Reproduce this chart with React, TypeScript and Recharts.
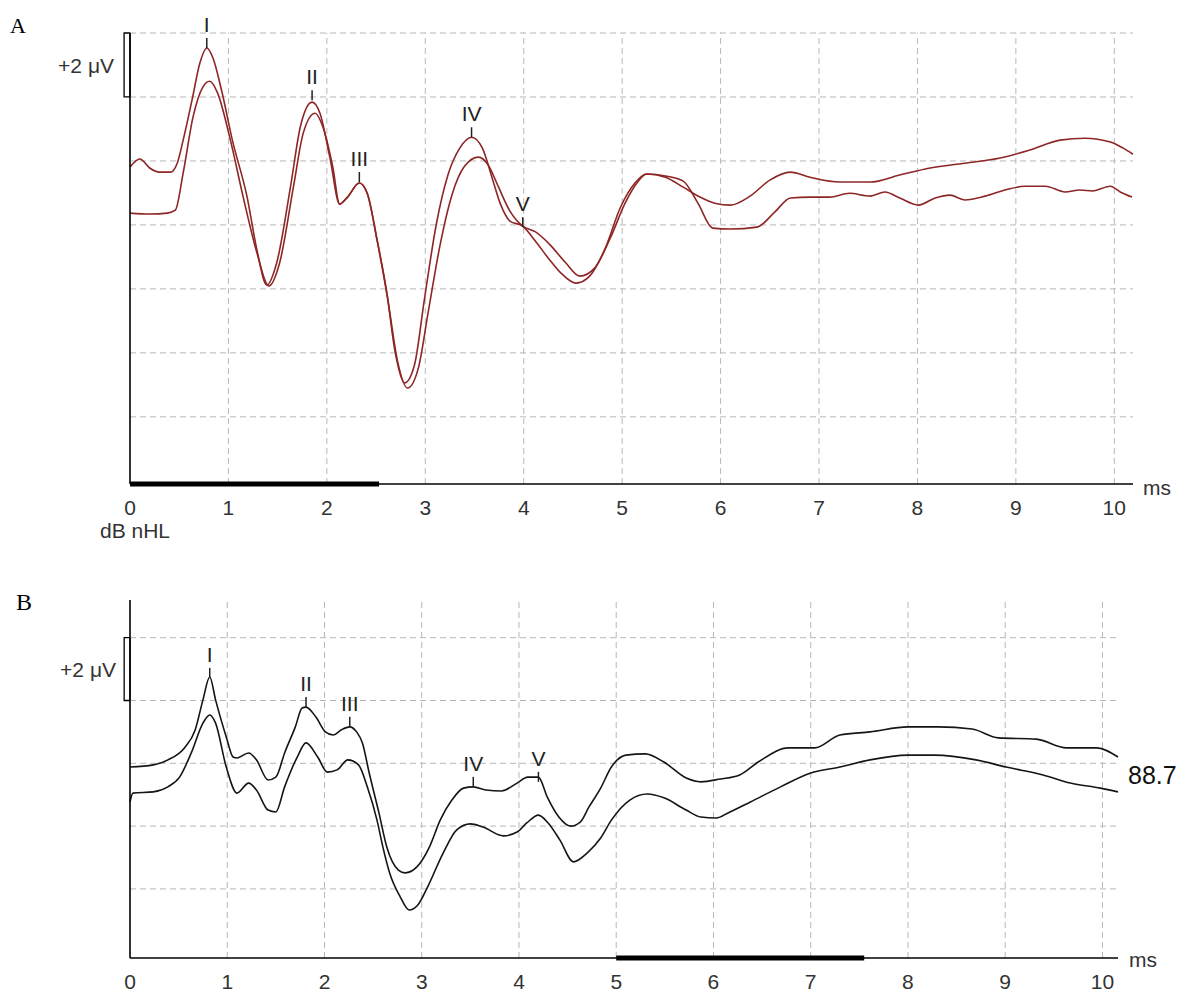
import React from 'react';
import { ComposedChart, Line, XAxis, YAxis, ReferenceLine, ReferenceArea, Scatter } from 'recharts';

// ---- axes / grid ----
const msTicks = [0, 1, 2, 3, 4, 5, 6, 7, 8, 9, 10];
const msGrid = [1, 2, 3, 4, 5, 6, 7, 8, 9, 10];
const uvGridA = [2, 4, 6, 8, 10, 12, 14];
const uvGridB = [2, 4, 6, 8, 10];
const baselineA = [8.34, 8.99];
const baselineB = [4.83, 5.88];
const stimulusA: [number, number] = [0, 2.53];
const stimulusB: [number, number] = [5, 7.55];
const levelB = '88.7';

// ---- Panel A traces [ms, µV] ----
const aUpper: [number, number][] = [
  [0, 9.81], [0.1, 10.06], [0.2, 9.78], [0.3, 9.65], [0.41, 9.65], [0.48, 9.93], [0.54, 10.65],
  [0.63, 11.9], [0.71, 13.06], [0.78, 13.53], [0.84, 13.24], [0.93, 12.21], [1.04, 10.65],
  [1.19, 8.87], [1.29, 7.21], [1.39, 6.12], [1.49, 6.81], [1.63, 9.18], [1.73, 11.06],
  [1.85, 11.84], [1.93, 11.49], [2.03, 10.12], [2.13, 8.65], [2.21, 8.87], [2.33, 9.31],
  [2.41, 8.99], [2.51, 7.53], [2.61, 5.87], [2.69, 4.09], [2.79, 3.06], [2.89, 3.62],
  [2.99, 5.65], [3.11, 7.99], [3.23, 9.56], [3.35, 10.4], [3.47, 10.74], [3.58, 10.4],
  [3.68, 9.46], [3.76, 8.68], [3.86, 8.12], [3.99, 7.96], [4.11, 7.53], [4.25, 6.96],
  [4.39, 6.46], [4.53, 6.18], [4.67, 6.4], [4.83, 7.28], [4.98, 8.53], [5.13, 9.31],
  [5.25, 9.59], [5.44, 9.49], [5.62, 9.18], [5.79, 8.87], [5.94, 8.68], [6.1, 8.62],
  [6.3, 8.9], [6.5, 9.4], [6.71, 9.65], [6.91, 9.49], [7.21, 9.34], [7.52, 9.34],
  [7.82, 9.56], [8.13, 9.78], [8.48, 9.93], [8.84, 10.09], [9.14, 10.34], [9.45, 10.65],
  [9.7, 10.71], [9.96, 10.59], [10.09, 10.4], [10.19, 10.21],
];
const aLower: [number, number][] = [
  [0, 8.37], [0.2, 8.34], [0.38, 8.37], [0.46, 8.46], [0.54, 9.62], [0.64, 11.37],
  [0.74, 12.31], [0.81, 12.49], [0.89, 12.12], [1.02, 10.65], [1.15, 8.87], [1.29, 7.12],
  [1.41, 6.09], [1.52, 6.81], [1.66, 9.18], [1.76, 10.87], [1.88, 11.49], [1.96, 11.06],
  [2.06, 9.81], [2.13, 8.65], [2.21, 8.87], [2.33, 9.31], [2.41, 8.99], [2.51, 7.53],
  [2.62, 5.65], [2.72, 3.71], [2.82, 2.9], [2.93, 3.53], [3.03, 5.28], [3.15, 7.37],
  [3.27, 8.93], [3.4, 9.84], [3.54, 10.12], [3.64, 9.87], [3.74, 9.21], [3.86, 8.43],
  [3.99, 7.96], [4.12, 7.78], [4.27, 7.37], [4.42, 6.84], [4.57, 6.4], [4.72, 6.65],
  [4.88, 7.59], [5.03, 8.68], [5.15, 9.31], [5.25, 9.59], [5.44, 9.53], [5.62, 9.37],
  [5.77, 8.68], [5.92, 7.9], [6.1, 7.87], [6.37, 7.93], [6.55, 8.4], [6.71, 8.84],
  [6.91, 8.87], [7.11, 8.87], [7.31, 8.99], [7.52, 8.9], [7.67, 9.03], [7.82, 8.84],
  [8.01, 8.62], [8.18, 8.84], [8.33, 8.93], [8.48, 8.78], [8.69, 8.9], [8.89, 9.09],
  [9.09, 9.21], [9.3, 9.21], [9.5, 9.03], [9.65, 9.09], [9.78, 9.06], [9.96, 9.21],
  [10.06, 9.03], [10.18, 8.87],
];

// ---- Panel B traces [ms, µV] ----
const bUpper: [number, number][] = [
  [0, 5.88], [0.24, 5.95], [0.39, 6.11], [0.56, 6.49], [0.67, 7.06], [0.75, 8.02], [0.82, 8.75],
  [0.88, 8.02], [0.99, 6.84], [1.06, 6.2], [1.1, 6.17], [1.22, 6.33], [1.3, 6.11], [1.42, 5.47],
  [1.5, 5.56], [1.59, 6.33], [1.7, 7.16], [1.77, 7.76], [1.81, 7.79], [1.91, 7.48], [2.01, 7.0],
  [2.09, 6.9], [2.17, 7.06], [2.26, 7.16], [2.33, 7.0], [2.39, 6.65], [2.46, 5.69], [2.56, 4.42],
  [2.64, 3.34], [2.76, 2.6], [2.83, 2.51], [2.95, 2.7], [3.08, 3.34], [3.19, 4.19], [3.31, 4.83],
  [3.43, 5.21], [3.53, 5.25], [3.66, 5.15], [3.82, 5.12], [3.98, 5.37], [4.09, 5.56], [4.2, 5.56],
  [4.29, 4.93], [4.41, 4.29], [4.53, 4.0], [4.63, 4.13], [4.72, 4.61], [4.84, 5.21], [4.95, 5.88],
  [5.1, 6.26], [5.3, 6.3], [5.49, 6.04], [5.72, 5.53], [5.87, 5.41], [6.07, 5.5], [6.27, 5.63],
  [6.46, 6.04], [6.77, 6.49], [7.04, 6.49], [7.3, 6.9], [7.61, 7.0], [8.0, 7.16], [8.31, 7.16],
  [8.66, 7.09], [8.93, 6.81], [9.32, 6.77], [9.63, 6.49], [9.94, 6.49], [10.16, 6.2],
];
const bLower: [number, number][] = [
  [0, 4.77], [0.03, 5.05], [0.24, 5.09], [0.39, 5.25], [0.51, 5.56], [0.63, 6.33], [0.75, 7.28],
  [0.82, 7.54], [0.88, 7.28], [0.99, 5.88], [1.1, 5.05], [1.22, 5.37], [1.3, 5.15], [1.42, 4.51],
  [1.5, 4.45], [1.59, 5.25], [1.72, 6.2], [1.81, 6.65], [1.93, 6.2], [2.03, 5.72], [2.13, 5.79],
  [2.24, 6.11], [2.35, 5.95], [2.44, 5.25], [2.54, 4.19], [2.6, 3.34], [2.67, 2.51], [2.78, 1.74],
  [2.87, 1.33], [2.96, 1.49], [3.06, 2.06], [3.22, 3.14], [3.36, 3.88], [3.5, 4.07], [3.63, 3.97],
  [3.84, 3.69], [3.98, 3.81], [4.08, 4.1], [4.2, 4.35], [4.3, 4.1], [4.42, 3.56], [4.56, 2.86],
  [4.7, 3.14], [4.84, 3.62], [4.95, 4.19], [5.14, 4.83], [5.32, 5.02], [5.49, 4.9], [5.72, 4.51],
  [5.87, 4.29], [6.03, 4.26], [6.15, 4.42], [6.38, 4.77], [6.69, 5.25], [7.0, 5.69], [7.3, 5.88],
  [7.61, 6.11], [8.0, 6.26], [8.27, 6.26], [8.7, 6.11], [9.01, 5.88], [9.39, 5.63], [9.67, 5.37],
  [9.98, 5.21], [10.16, 5.09],
];

// ---- wave markers ----
const peaksA = [
  { t: 0.78, v: 13.53, label: 'I' },
  { t: 1.85, v: 11.9, label: 'II' },
  { t: 2.33, v: 9.34, label: 'III' },
  { t: 3.47, v: 10.74, label: 'IV' },
  { t: 3.99, v: 7.93, label: 'V' },
];
const peaksB = [
  { t: 0.82, v: 8.72, label: 'I' },
  { t: 1.81, v: 7.79, label: 'II' },
  { t: 2.26, v: 7.16, label: 'III' },
  { t: 3.53, v: 5.25, label: 'IV' },
  { t: 4.2, v: 5.41, label: 'V' },
];

const rows = (pts: [number, number][]) => pts.map(([t, v]) => ({ t, v }));

const FONT = '"Liberation Sans", Arial, sans-serif';
const GRID = '#b8b8b8';
const RED = '#8e2626';
const INK = '#151515';

const PeakMark = (props: any) => {
  const { cx, cy, payload } = props;
  if (cx == null || cy == null) return null;
  return (
    <g>
      <line x1={cx} x2={cx} y1={cy} y2={cy - 10} stroke="#222" strokeWidth={1.5} />
      <text x={cx} y={cy - 16} textAnchor="middle" fontSize={21} fontFamily={FONT} fill="#222">
        {payload.label}
      </text>
    </g>
  );
};

const tickStyle = { fontSize: 21, fontFamily: FONT, fill: '#333' };

type PanelProps = {
  top: number;
  height: number;
  margin: { top: number; right: number; bottom: number; left: number };
  xMax: number;
  yDomain: [number, number];
  uvGrid: number[];
  baselines: number[];
  scaleBar: [number, number];
  stimulus: [number, number];
  traces: [number, number][][];
  color: string;
  peaks: { t: number; v: number; label: string }[];
  xAxisHeight: number;
};

const Panel = (p: PanelProps) => (
  <div style={{ position: 'absolute', left: 0, top: p.top }}>
    <ComposedChart width={1189} height={p.height} margin={p.margin} style={{ overflow: 'visible' }}>
      <XAxis
        dataKey="t"
        type="number"
        domain={[0, p.xMax]}
        ticks={msTicks}
        tickLine={false}
        tickMargin={10}
        tick={tickStyle}
        axisLine={{ stroke: '#000', strokeWidth: 1.6 }}
        height={p.xAxisHeight}
        interval={0}
      />
      <YAxis
        type="number"
        domain={p.yDomain}
        ticks={p.baselines}
        tick={false}
        tickSize={5}
        tickLine={{ stroke: '#000', strokeWidth: 1.2 }}
        axisLine={{ stroke: '#000', strokeWidth: 1.6 }}
        width={10}
      />
      {p.uvGrid.map((g) => (
        <ReferenceLine key={'h' + g} y={g} stroke={GRID} strokeDasharray="6 4" strokeWidth={1} />
      ))}
      {msGrid.map((g) => (
        <ReferenceLine key={'v' + g} x={g} stroke={GRID} strokeDasharray="6 4" strokeWidth={1} />
      ))}
      <ReferenceArea
        x1={-0.06}
        x2={0}
        y1={p.scaleBar[0]}
        y2={p.scaleBar[1]}
        fill="#fff"
        fillOpacity={1}
        stroke="#000"
        strokeWidth={1.3}
        ifOverflow="visible"
      />
      {p.traces.map((tr, i) => (
        <Line
          key={'tr' + i}
          data={rows(tr)}
          dataKey="v"
          type="monotone"
          stroke={p.color}
          strokeWidth={1.6}
          dot={false}
          isAnimationActive={false}
        />
      ))}
      <Scatter data={p.peaks} dataKey="v" shape={PeakMark} isAnimationActive={false} />
      <ReferenceLine
        segment={[
          { x: p.stimulus[0], y: p.yDomain[0] },
          { x: p.stimulus[1], y: p.yDomain[0] },
        ]}
        stroke="#000"
        strokeWidth={5}
        ifOverflow="visible"
      />
    </ComposedChart>
  </div>
);

export default function App() {
  return (
    <div style={{ position: 'absolute', left: 0, top: 0, width: 1189, height: 992, background: '#fff' }}>
      <Panel
        top={0}
        height={560}
        margin={{ top: 33, right: 56, bottom: 36, left: 120 }}
        xMax={10.19}
        yDomain={[-0.1, 14]}
        uvGrid={uvGridA}
        baselines={baselineA}
        scaleBar={[12, 14]}
        stimulus={stimulusA}
        traces={[aUpper, aLower]}
        color={RED}
        peaks={peaksA}
        xAxisHeight={40}
      />
      <Panel
        top={560}
        height={432}
        margin={{ top: 40, right: 71, bottom: 0, left: 120 }}
        xMax={10.16}
        yDomain={[-0.2, 11.2]}
        uvGrid={uvGridB}
        baselines={baselineB}
        scaleBar={[8, 10]}
        stimulus={stimulusB}
        traces={[bUpper, bLower]}
        color={INK}
        peaks={peaksB}
        xAxisHeight={34}
      />
      <svg
        width={1189}
        height={992}
        style={{ position: 'absolute', left: 0, top: 0, pointerEvents: 'none' }}
      >
        <text x={10} y={33} fontSize={22} fontFamily='"Liberation Serif", "Times New Roman", serif' fill="#000">A</text>
        <text x={16} y={610} fontSize={24} fontFamily='"Liberation Serif", "Times New Roman", serif' fill="#000">B</text>
        <text x={114} y={73} fontSize={21} fontFamily={FONT} fill="#333" textAnchor="end">+2 μV</text>
        <text x={116} y={677} fontSize={21} fontFamily={FONT} fill="#333" textAnchor="end">+2 μV</text>
        <text x={100} y={538} fontSize={21} fontFamily={FONT} fill="#333">dB nHL</text>
        <text x={1143} y={495} fontSize={21} fontFamily={FONT} fill="#333">ms</text>
        <text x={1129} y={967} fontSize={21} fontFamily={FONT} fill="#333">ms</text>
        <text x={1128} y={784} fontSize={25} fontFamily={FONT} fill="#111">{levelB}</text>
      </svg>
    </div>
  );
}
